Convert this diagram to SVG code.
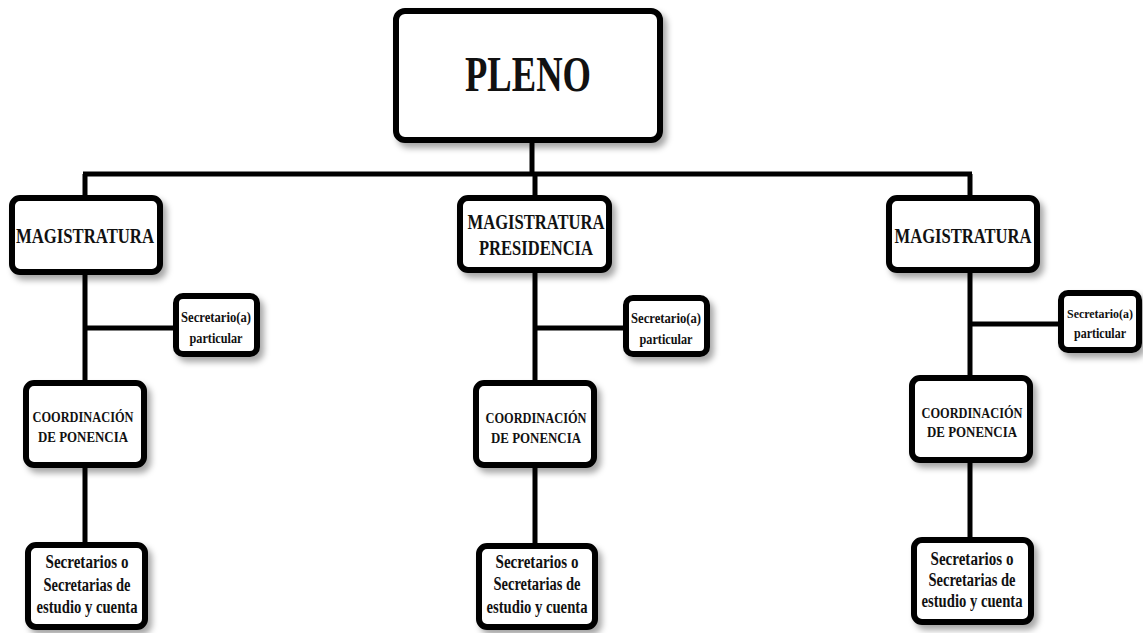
<svg xmlns="http://www.w3.org/2000/svg" width="1143" height="633" viewBox="0 0 1143 633">
<defs>
<filter id="sh" x="-20%" y="-20%" width="150%" height="160%">
<feDropShadow dx="4" dy="5" stdDeviation="3" flood-color="#000" flood-opacity="0.35"/>
</filter>
<style>
.box{fill:#fff;stroke:#000;stroke-width:6;filter:url(#sh)}
.ln{stroke:#000;stroke-width:5;fill:none}
text{font-family:"Liberation Serif","Times New Roman",serif;font-weight:bold;fill:#111;text-anchor:middle}
.t48{font-size:50px}
.t20{font-size:21px}
.t17{font-size:18px}
.t14{font-size:15px}
.t13{font-size:14.5px}
.t12{font-size:12.5px}
</style>
</defs>
<rect width="1143" height="633" fill="#fff"/>
<g id="connectors">
<line class="ln" x1="532" y1="140" x2="532" y2="174"/>
<line class="ln" x1="83" y1="174" x2="972" y2="174"/>
<line class="ln" x1="85" y1="174" x2="85" y2="545"/>
<line class="ln" x1="535" y1="174" x2="535" y2="546"/>
<line class="ln" x1="970" y1="174" x2="970" y2="540"/>
<line class="ln" x1="85" y1="328" x2="176" y2="328"/>
<line class="ln" x1="535" y1="328" x2="626" y2="328"/>
<line class="ln" x1="970" y1="324" x2="1061" y2="324"/>
</g>
<g id="pleno">
<rect class="box" x="396" y="11" width="264" height="129" rx="9"/>
<text class="t48" x="528" y="91" textLength="126" lengthAdjust="spacingAndGlyphs">PLENO</text>
</g>
<g id="mag-left">
<rect class="box" x="12" y="198" width="148" height="74" rx="8"/>
<text class="t20" x="85" y="243" textLength="138" lengthAdjust="spacingAndGlyphs">MAGISTRATURA</text>
</g>
<g id="mag-pres">
<rect class="box" x="460" y="198" width="149" height="72" rx="8"/>
<text class="t20" x="536" y="229" textLength="137" lengthAdjust="spacingAndGlyphs">MAGISTRATURA</text>
<text class="t20" x="536" y="255" textLength="114" lengthAdjust="spacingAndGlyphs">PRESIDENCIA</text>
</g>
<g id="mag-right">
<rect class="box" x="889" y="198" width="148" height="72" rx="8"/>
<text class="t20" x="963" y="243" textLength="137" lengthAdjust="spacingAndGlyphs">MAGISTRATURA</text>
</g>
<g id="sec-part-left">
<rect class="box" x="176" y="296" width="81" height="58" rx="7"/>
<text class="t13" x="216" y="322" textLength="70" lengthAdjust="spacingAndGlyphs">Secretario(a)</text>
<text class="t13" x="216" y="343" textLength="53" lengthAdjust="spacingAndGlyphs">particular</text>
</g>
<g id="sec-part-mid">
<rect class="box" x="626" y="298" width="81" height="56" rx="7"/>
<text class="t13" x="666" y="323" textLength="70" lengthAdjust="spacingAndGlyphs">Secretario(a)</text>
<text class="t13" x="666" y="344" textLength="53" lengthAdjust="spacingAndGlyphs">particular</text>
</g>
<g id="sec-part-right">
<rect class="box" x="1061" y="293" width="78" height="57" rx="7"/>
<text class="t12" x="1100" y="318" textLength="66" lengthAdjust="spacingAndGlyphs">Secretario(a)</text>
<text class="t13" x="1100" y="338" textLength="52" lengthAdjust="spacingAndGlyphs">particular</text>
</g>
<g id="coord-left">
<rect class="box" x="26" y="383" width="118" height="82" rx="8"/>
<text class="t14" x="83" y="422" textLength="101" lengthAdjust="spacingAndGlyphs">COORDINACIÓN</text>
<text class="t14" x="83" y="442" textLength="90" lengthAdjust="spacingAndGlyphs">DE PONENCIA</text>
</g>
<g id="coord-mid">
<rect class="box" x="476" y="383" width="118" height="82" rx="8"/>
<text class="t14" x="536" y="423" textLength="101" lengthAdjust="spacingAndGlyphs">COORDINACIÓN</text>
<text class="t14" x="536" y="443" textLength="90" lengthAdjust="spacingAndGlyphs">DE PONENCIA</text>
</g>
<g id="coord-right">
<rect class="box" x="912" y="378" width="118" height="82" rx="8"/>
<text class="t14" x="972" y="418" textLength="101" lengthAdjust="spacingAndGlyphs">COORDINACIÓN</text>
<text class="t14" x="972" y="437" textLength="90" lengthAdjust="spacingAndGlyphs">DE PONENCIA</text>
</g>
<g id="sec-est-left">
<rect class="box" x="28" y="545" width="117" height="82" rx="8"/>
<text class="t17" x="87" y="568" textLength="83" lengthAdjust="spacingAndGlyphs">Secretarios o</text>
<text class="t17" x="87" y="591" textLength="87" lengthAdjust="spacingAndGlyphs">Secretarias de</text>
<text class="t17" x="87" y="613" textLength="101" lengthAdjust="spacingAndGlyphs">estudio y cuenta</text>
</g>
<g id="sec-est-mid">
<rect class="box" x="479" y="546" width="116" height="81" rx="8"/>
<text class="t17" x="537" y="568" textLength="83" lengthAdjust="spacingAndGlyphs">Secretarios o</text>
<text class="t17" x="537" y="590" textLength="87" lengthAdjust="spacingAndGlyphs">Secretarias de</text>
<text class="t17" x="537" y="613" textLength="101" lengthAdjust="spacingAndGlyphs">estudio y cuenta</text>
</g>
<g id="sec-est-right">
<rect class="box" x="914" y="540" width="117" height="82" rx="8"/>
<text class="t17" x="972" y="565" textLength="83" lengthAdjust="spacingAndGlyphs">Secretarios o</text>
<text class="t17" x="972" y="586" textLength="87" lengthAdjust="spacingAndGlyphs">Secretarias de</text>
<text class="t17" x="972" y="607" textLength="101" lengthAdjust="spacingAndGlyphs">estudio y cuenta</text>
</g>
</svg>
